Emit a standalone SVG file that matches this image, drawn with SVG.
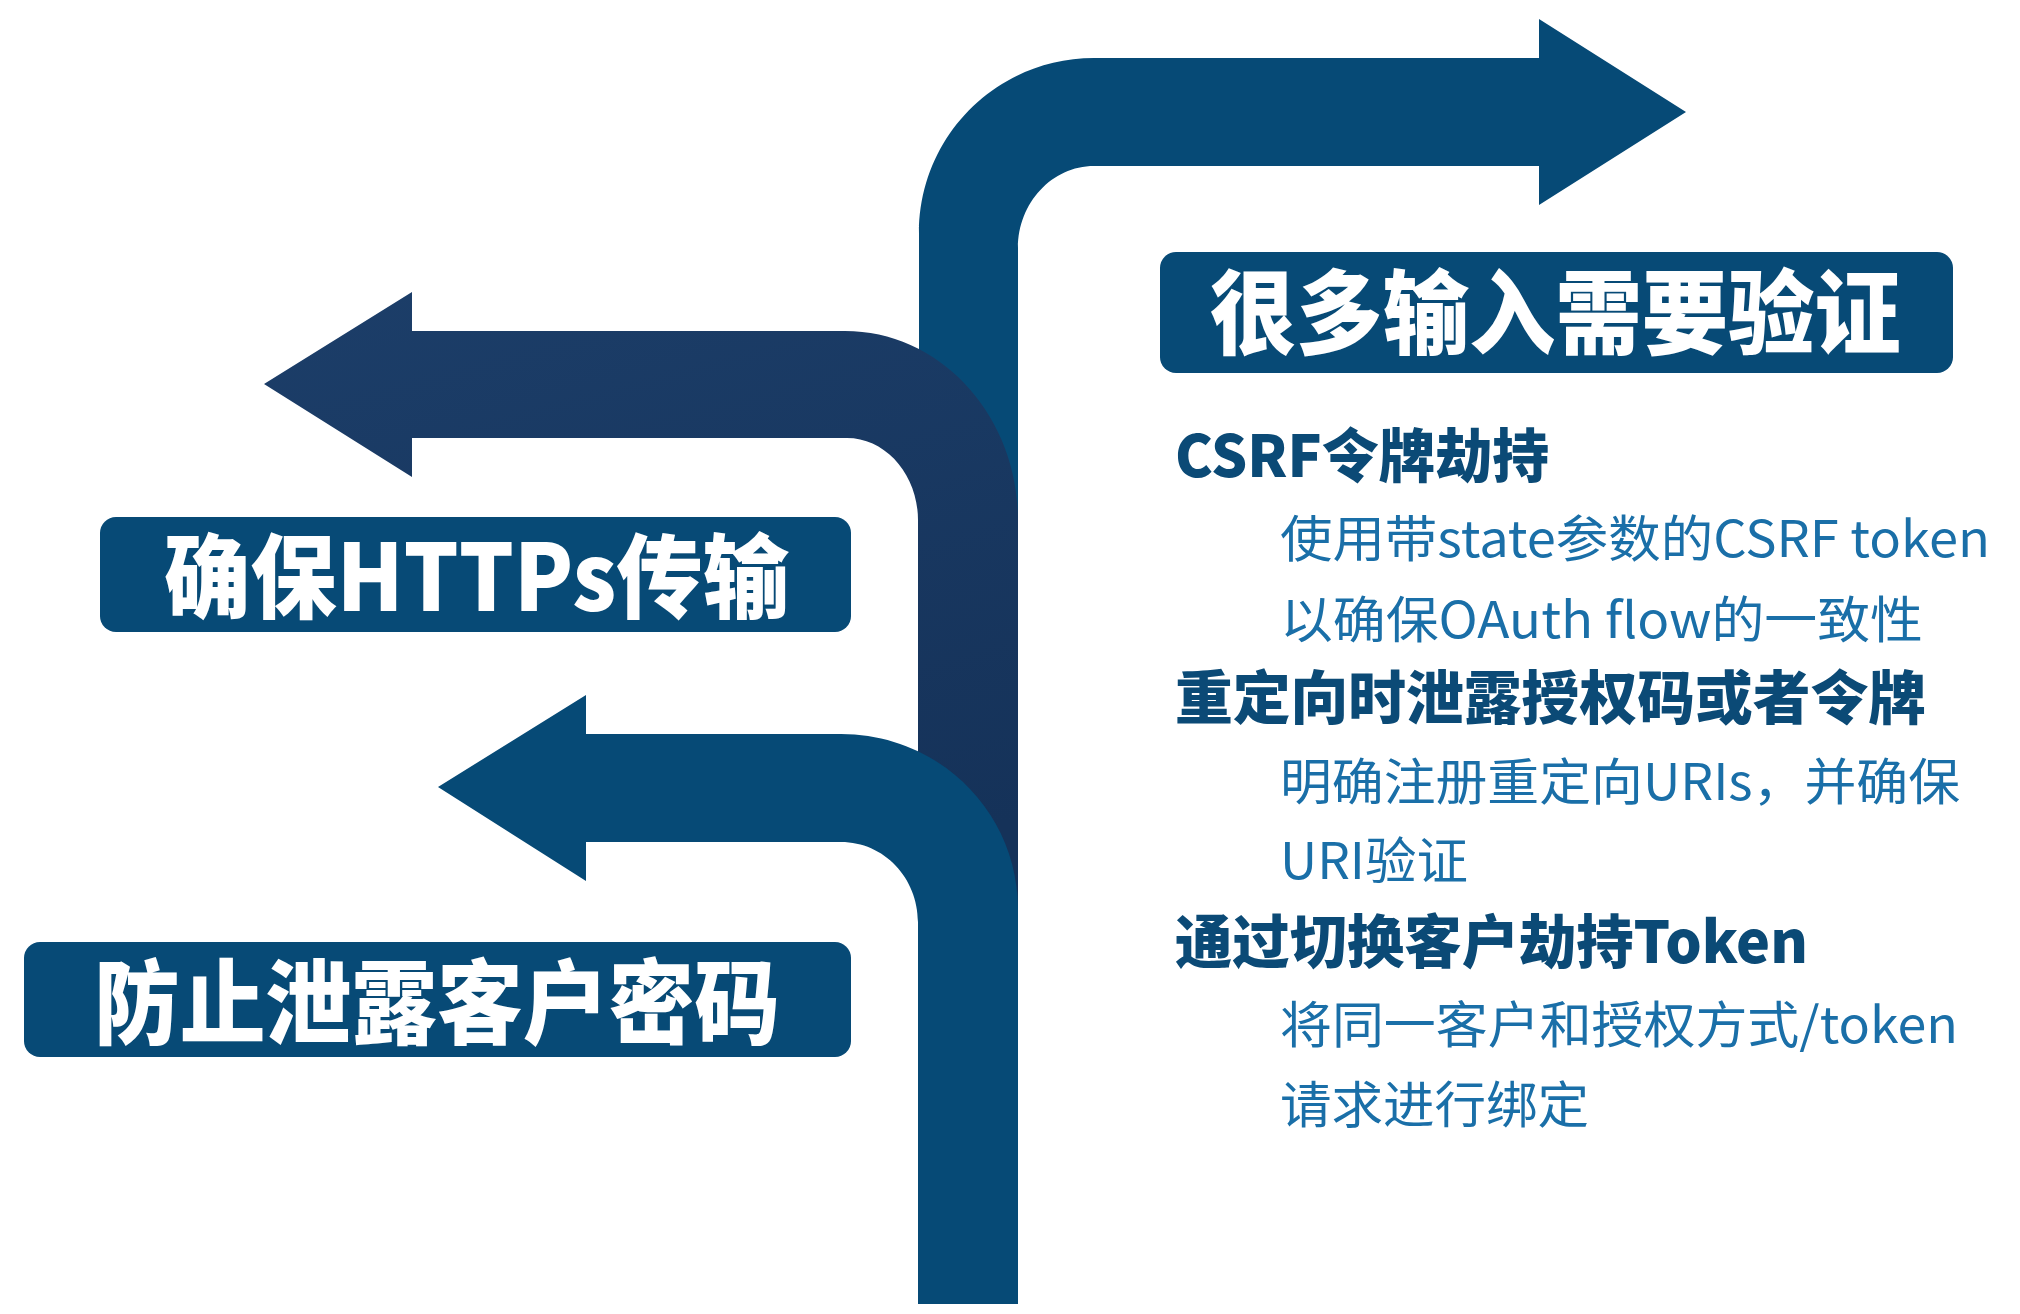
<svg xmlns="http://www.w3.org/2000/svg" width="2020" height="1314" viewBox="0 0 2020 1314">
<defs>
<linearGradient id="dark" x1="0" y1="0" x2="0.3" y2="1">
<stop offset="0" stop-color="#1c3e69"/>
<stop offset="1" stop-color="#153259"/>
</linearGradient>
</defs>
<style>
.light{fill:#064a76}
.box{fill:#074a76}
.title{font-family:"Noto Sans CJK SC","Noto Sans",sans-serif;font-weight:900;font-size:92px;fill:#ffffff}
.head{font-family:"Noto Sans CJK SC","Noto Sans",sans-serif;font-weight:900;font-size:58px;fill:#0b4a76}
.sub{font-family:"Noto Sans CJK SC","Noto Sans",sans-serif;font-size:50px;fill:#1a6fa8}
</style>
<rect width="2020" height="1314" fill="#ffffff"/>
<g id="connectors">
<path id="arrow-top" class="light" d="M919,1304 L919,233 C919,136 997,58 1094,58 L1539,58 L1539,19 L1686,112 L1539,205 L1539,166 L1094,166 C1052,166 1018,203 1018,248 L1018,1304 Z"/>
<path id="arrow-middle" fill="url(#dark)" d="M264,384 L412,292 L412,331 L845,331 C941,331 1018,416 1018,520 L1018,960 L918,960 L918,520 C918,475 886,438 847,438 L412,438 L412,477 Z"/>
<path id="arrow-bottom" class="light" d="M438,787 L586,695 L586,734 L841,734 C939,734 1018,812 1018,909 L1018,1304 L918,1304 L918,922 C918,878 884,842 841,842 L586,842 L586,881 Z"/>
</g>
<g id="node-validate">
<rect class="box" x="1160" y="252" width="793" height="121" rx="16"/>
<text class="title" x="1210" y="347" textLength="691" lengthAdjust="spacingAndGlyphs">很多输入需要验证</text>
</g>
<g id="node-https">
<rect class="box" x="100" y="517" width="751" height="115" rx="16"/>
<text class="title" x="164" y="611" textLength="625" lengthAdjust="spacingAndGlyphs">确保HTTPs传输</text>
</g>
<g id="node-secret">
<rect class="box" x="24" y="942" width="827" height="115" rx="16"/>
<text class="title" x="94" y="1037" textLength="686" lengthAdjust="spacingAndGlyphs">防止泄露客户密码</text>
</g>
<g id="node-details">
<text class="head" x="1175" y="477" textLength="374" lengthAdjust="spacingAndGlyphs">CSRF令牌劫持</text>
<text class="sub" x="1280" y="557" textLength="710" lengthAdjust="spacingAndGlyphs">使用带state参数的CSRF token</text>
<text class="sub" x="1280" y="638" textLength="643" lengthAdjust="spacingAndGlyphs">以确保OAuth flow的一致性</text>
<text class="head" x="1175" y="719" textLength="751" lengthAdjust="spacingAndGlyphs">重定向时泄露授权码或者令牌</text>
<text class="sub" x="1280" y="800" textLength="680" lengthAdjust="spacingAndGlyphs">明确注册重定向URIs，并确保</text>
<text class="sub" x="1280" y="879" textLength="188" lengthAdjust="spacingAndGlyphs">URI验证</text>
<text class="head" x="1175" y="963" textLength="633" lengthAdjust="spacingAndGlyphs">通过切换客户劫持Token</text>
<text class="sub" x="1280" y="1043" textLength="678" lengthAdjust="spacingAndGlyphs">将同一客户和授权方式/token</text>
<text class="sub" x="1280" y="1123" textLength="309" lengthAdjust="spacingAndGlyphs">请求进行绑定</text>
</g>
</svg>
